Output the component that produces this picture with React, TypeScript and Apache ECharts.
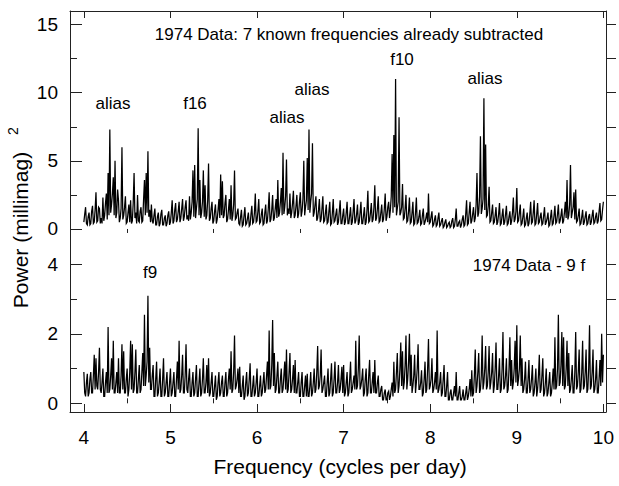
import React, { useEffect, useRef } from "react";
import * as echarts from "echarts";

// Frequency grid (cycles per day) of the periodogram samples
const FREQ_START = 4;
const FREQ_STEP = 0.01;

// Top panel: 1974 data, 7 known frequencies already subtracted (millimag^2)
const topPower = [
  0.5, 1.1, 1.6, 0.4, 0.3, 0.9, 1.2, 0.3, 0.4, 1.3, 1.7, 0.4, 0.5, 1.4, 2.7, 0.5, 0.6, 1.6, 1.5, 0.4,
  0.8, 0.4, 2.3, 0.6, 1.0, 1.9, 2.6, 0.7, 4.1, 1.0, 7.3, 1.2, 1.8, 2.6, 3.8, 1.0, 5.0, 0.8, 1.2, 2.9,
  2.1, 0.5, 0.8, 1.5, 6.0, 0.7, 1.0, 1.6, 2.4, 0.4, 0.5, 1.2, 1.8, 0.5, 2.1, 0.4, 0.6, 1.9, 4.1, 0.8,
  1.2, 0.4, 2.5, 0.6, 0.5, 1.3, 1.6, 0.5, 0.6, 2.2, 3.6, 1.0, 4.1, 1.2, 5.7, 0.9, 1.4, 0.5, 1.8, 0.6,
  0.4, 1.0, 1.5, 0.3, 0.3, 0.9, 1.2, 0.2, 0.4, 1.1, 1.4, 0.3, 0.3, 0.8, 1.0, 0.2, 0.4, 1.0, 1.3, 0.3,
  0.5, 1.2, 2.1, 0.4, 0.6, 1.4, 1.9, 0.5, 0.7, 1.3, 2.0, 0.5, 0.8, 1.5, 2.2, 0.6, 0.9, 1.6, 2.1, 0.7,
  1.0, 0.6, 2.4, 0.7, 1.2, 2.0, 4.3, 0.9, 4.7, 0.8, 1.5, 2.2, 7.4, 1.0, 3.6, 0.8, 1.2, 2.0, 4.3, 0.9,
  3.2, 0.7, 1.0, 2.1, 4.8, 0.6, 0.8, 1.5, 2.0, 0.4, 0.6, 1.3, 1.8, 0.4, 0.7, 1.4, 2.2, 0.8, 4.0, 1.0,
  3.5, 0.8, 1.0, 1.9, 2.5, 0.5, 0.7, 1.4, 2.2, 0.7, 3.2, 0.6, 1.0, 1.8, 4.3, 0.7, 0.8, 1.2, 1.5, 0.4,
  0.3, 0.9, 1.4, 0.2, 0.3, 1.0, 1.6, 0.3, 0.4, 0.8, 1.2, 0.2, 0.3, 1.1, 1.7, 0.4, 0.5, 1.2, 2.6, 0.5,
  0.6, 1.3, 2.2, 0.4, 0.5, 1.1, 1.5, 0.3, 0.4, 1.2, 1.8, 0.4, 0.6, 1.5, 2.7, 0.5, 0.7, 1.4, 2.5, 0.6,
  0.8, 1.5, 2.2, 0.8, 3.6, 0.9, 1.2, 2.0, 3.0, 1.0, 5.6, 1.1, 1.6, 2.4, 5.1, 1.0, 1.5, 1.1, 2.6, 0.8,
  1.2, 1.9, 2.8, 0.8, 1.0, 1.7, 2.5, 0.8, 1.1, 2.0, 2.7, 0.9, 1.3, 2.2, 5.0, 1.0, 1.6, 2.1, 5.2, 1.4,
  7.3, 1.2, 2.0, 2.6, 6.3, 0.9, 1.2, 1.8, 2.4, 0.6, 0.8, 1.4, 2.2, 0.5, 0.7, 1.5, 2.4, 0.5, 0.6, 1.2,
  1.8, 0.4, 0.5, 1.3, 2.0, 0.3, 0.4, 1.2, 2.2, 0.5, 0.6, 1.1, 1.5, 0.3, 0.5, 1.3, 2.1, 0.4, 0.4, 1.0,
  1.5, 0.3, 0.5, 1.2, 2.0, 0.4, 0.4, 1.0, 1.6, 0.3, 0.5, 1.3, 2.2, 0.4, 0.6, 1.1, 1.8, 0.3, 0.5, 1.2,
  2.0, 0.4, 0.4, 1.0, 1.6, 0.3, 0.5, 1.4, 2.8, 0.5, 0.6, 1.2, 1.9, 0.5, 0.7, 1.6, 3.2, 0.6, 0.8, 1.5,
  2.4, 0.5, 0.6, 1.2, 1.8, 0.5, 0.7, 1.5, 2.6, 0.6, 0.9, 1.6, 2.0, 0.8, 1.4, 2.4, 5.5, 1.2, 6.9, 1.6,
  11.0, 1.0, 1.5, 2.0, 8.2, 1.0, 1.2, 1.6, 3.3, 0.7, 0.8, 1.5, 2.5, 0.5, 0.6, 1.3, 2.3, 0.4, 0.5, 1.2,
  2.0, 0.3, 0.4, 1.2, 2.3, 0.4, 0.5, 0.9, 1.4, 0.3, 0.4, 1.0, 1.5, 0.3, 0.5, 0.8, 1.2, 0.5, 2.6, 0.4,
  0.5, 0.9, 1.3, 0.2, 0.3, 0.7, 1.0, 0.2, 0.3, 0.8, 1.2, 0.2, 0.3, 0.6, 0.8, 0.1, 0.2, 0.5, 0.7, 0.1,
  0.2, 0.4, 0.5, 0.1, 0.2, 0.6, 0.8, 0.1, 0.2, 0.7, 1.5, 0.2, 0.2, 0.5, 0.6, 0.1, 0.3, 0.7, 1.0, 0.2,
  0.3, 1.1, 2.1, 0.3, 0.4, 1.2, 2.0, 0.4, 0.6, 1.1, 1.6, 0.5, 0.8, 1.8, 4.1, 0.9, 1.2, 2.4, 6.8, 1.1,
  1.5, 2.2, 9.6, 1.4, 6.2, 0.9, 1.0, 1.7, 3.1, 0.5, 0.6, 1.2, 1.8, 0.4, 0.5, 1.0, 1.6, 0.3, 0.5, 1.1,
  1.9, 0.3, 0.4, 1.0, 1.5, 0.3, 0.5, 1.1, 1.7, 0.3, 0.4, 0.9, 1.3, 0.3, 0.6, 1.2, 2.3, 0.5, 0.7, 1.3,
  3.0, 0.5, 0.6, 1.2, 1.8, 0.3, 0.4, 0.9, 1.5, 0.2, 0.3, 0.8, 1.2, 0.2, 0.4, 1.1, 2.0, 0.4, 0.5, 1.2,
  2.1, 0.3, 0.4, 1.1, 1.9, 0.4, 0.5, 0.9, 1.2, 0.3, 0.4, 1.0, 1.6, 0.3, 0.5, 0.8, 1.2, 0.2, 0.3, 0.9,
  1.4, 0.3, 0.4, 1.0, 1.7, 0.4, 0.5, 1.1, 1.8, 0.4, 0.6, 1.0, 1.5, 0.4, 0.6, 1.2, 2.0, 0.8, 3.6, 0.7,
  1.0, 1.8, 4.7, 0.8, 1.2, 1.6, 2.7, 0.7, 2.9, 0.5, 0.6, 1.0, 1.5, 0.3, 0.4, 0.9, 1.4, 0.3, 0.5, 0.9,
  1.3, 0.3, 0.4, 0.9, 1.1, 0.3, 0.5, 1.0, 1.4, 0.4, 0.5, 0.9, 1.2, 0.4, 0.6, 1.3, 1.9, 0.6, 0.7, 1.4,
  2.0,
];

// Bottom panel: 1974 data minus 9 frequencies (millimag^2)
const bottomPower = [
  0.9, 0.3, 0.2, 0.6, 0.85, 0.2, 0.3, 0.7, 0.9, 0.3, 0.3, 0.8, 1.4, 0.4, 1.3, 0.5, 0.4, 0.9, 1.6, 0.4,
  0.3, 0.6, 1.0, 0.2, 0.2, 0.6, 0.9, 0.3, 2.2, 0.3, 0.4, 0.8, 1.3, 0.4, 1.8, 0.3, 0.3, 0.6, 0.9, 0.3,
  1.3, 0.3, 0.3, 0.8, 1.7, 0.4, 1.5, 0.3, 0.3, 0.7, 1.0, 0.2, 0.4, 0.9, 1.8, 0.4, 1.7, 0.3, 0.4, 0.9,
  1.55, 0.3, 0.3, 0.7, 1.1, 0.3, 0.4, 0.9, 1.45, 0.5, 2.55, 0.5, 0.8, 1.2, 3.1, 0.6, 1.6, 0.4, 0.4, 0.8,
  1.1, 0.2, 0.2, 0.7, 1.2, 0.2, 0.3, 0.6, 1.0, 0.2, 0.2, 0.7, 1.3, 0.2, 0.3, 0.6, 0.9, 0.2, 0.2, 0.6,
  1.0, 0.2, 0.3, 0.6, 0.9, 0.2, 0.2, 0.7, 1.2, 0.4, 1.8, 0.3, 0.4, 0.8, 1.4, 0.3, 0.3, 0.8, 1.7, 0.4,
  0.3, 0.7, 1.0, 0.2, 0.2, 0.6, 0.9, 0.2, 0.3, 0.7, 1.1, 0.2, 0.2, 0.6, 1.0, 0.2, 0.3, 0.7, 1.3, 0.3,
  0.3, 0.6, 1.1, 0.3, 1.3, 0.2, 0.3, 0.6, 0.9, 0.2, 0.2, 0.5, 0.8, 0.1, 0.2, 0.6, 0.9, 0.2, 0.3, 0.6,
  0.8, 0.2, 0.2, 0.6, 0.9, 0.2, 0.3, 0.7, 1.0, 0.4, 1.5, 0.3, 0.4, 0.9, 1.95, 0.4, 0.5, 0.7, 1.0, 0.3,
  1.05, 0.2, 0.2, 0.5, 0.8, 0.1, 0.2, 0.6, 0.9, 0.2, 0.3, 0.7, 1.15, 0.2, 0.2, 0.5, 0.8, 0.2, 0.3, 0.6,
  1.0, 0.2, 0.2, 0.5, 0.8, 0.2, 0.3, 0.6, 0.9, 0.3, 0.4, 0.8, 1.2, 0.4, 2.1, 0.4, 0.5, 1.1, 2.4, 0.5,
  1.45, 0.3, 0.4, 0.8, 1.2, 0.3, 0.3, 0.7, 1.0, 0.3, 0.4, 0.8, 1.2, 0.4, 1.55, 0.3, 0.4, 0.9, 1.45, 0.3,
  0.4, 0.7, 1.1, 0.3, 1.25, 0.3, 0.3, 0.6, 0.9, 0.2, 0.2, 0.6, 0.9, 0.2, 0.2, 0.5, 0.8, 0.2, 0.85, 0.2,
  0.2, 0.5, 0.9, 0.2, 0.3, 0.6, 1.0, 0.3, 0.4, 0.9, 1.65, 0.4, 0.5, 0.8, 1.55, 0.3, 0.4, 0.6, 0.8, 0.2,
  0.2, 0.6, 1.0, 0.2, 0.3, 0.7, 1.15, 0.2, 0.3, 0.7, 1.2, 0.3, 0.3, 0.6, 1.1, 0.3, 0.4, 0.7, 1.05, 0.3,
  1.1, 0.2, 0.3, 0.6, 0.9, 0.2, 0.3, 0.7, 1.2, 0.3, 0.4, 0.6, 0.8, 0.4, 1.8, 0.4, 0.5, 1.0, 1.95, 0.4,
  0.5, 0.7, 1.0, 0.2, 0.3, 0.7, 1.0, 0.2, 0.3, 0.8, 1.25, 0.3, 0.3, 0.6, 0.9, 0.3, 1.25, 0.3, 0.3, 0.6,
  0.8, 0.2, 0.2, 0.4, 0.5, 0.1, 0.1, 0.3, 0.4, 0.1, 0.1, 0.3, 0.35, 0.1, 0.2, 0.4, 0.6, 0.2, 1.2, 0.3,
  0.4, 0.9, 1.45, 0.3, 0.5, 1.0, 1.75, 0.5, 1.5, 0.4, 0.6, 1.1, 1.95, 0.4, 0.7, 1.2, 2.0, 0.5, 1.4, 0.3,
  0.5, 0.8, 1.4, 0.3, 0.6, 1.0, 1.7, 0.4, 0.4, 0.6, 0.95, 0.2, 0.3, 0.7, 1.2, 0.3, 0.4, 1.0, 1.85, 0.4,
  0.5, 0.7, 1.3, 0.3, 0.4, 0.6, 0.9, 0.4, 2.1, 0.3, 0.4, 0.6, 0.9, 0.2, 0.3, 0.7, 1.1, 0.2, 0.2, 0.5,
  0.9, 0.1, 0.1, 0.3, 0.4, 0.1, 0.1, 0.3, 0.5, 0.2, 0.9, 0.1, 0.1, 0.3, 0.5, 0.1, 0.1, 0.2, 0.4, 0.1,
  0.1, 0.3, 0.5, 0.1, 0.2, 0.4, 0.7, 0.2, 0.95, 0.2, 0.3, 0.8, 1.55, 0.3, 0.5, 0.9, 1.45, 0.3, 0.4, 0.8,
  1.95, 0.4, 0.6, 1.0, 1.65, 0.4, 0.5, 0.9, 1.65, 0.4, 0.6, 0.9, 1.45, 0.3, 0.5, 1.0, 1.75, 0.4, 0.4, 0.8,
  1.3, 0.3, 0.4, 1.0, 2.05, 0.4, 0.5, 0.8, 1.3, 0.3, 0.4, 1.0, 1.9, 0.5, 1.25, 0.4, 0.6, 1.0, 1.8, 0.6,
  2.25, 0.5, 0.7, 1.0, 1.95, 0.5, 1.3, 0.3, 0.4, 0.7, 1.2, 0.3, 0.3, 0.7, 1.25, 0.3, 0.4, 0.7, 1.1, 0.2,
  0.3, 0.6, 1.0, 0.2, 0.4, 0.8, 1.4, 0.3, 0.4, 0.8, 1.3, 0.2, 0.3, 0.6, 1.0, 0.2, 0.3, 0.6, 0.9, 0.2,
  0.3, 0.6, 1.0, 0.4, 1.9, 0.4, 0.5, 1.0, 2.55, 0.5, 0.6, 1.1, 2.05, 0.5, 1.9, 0.4, 0.5, 1.0, 1.8, 0.5,
  1.45, 0.3, 0.4, 0.7, 1.1, 0.3, 0.3, 0.9, 2.05, 0.4, 0.5, 0.9, 1.55, 0.3, 0.4, 0.9, 1.8, 0.4, 0.5, 0.9,
  1.55, 0.3, 0.4, 1.0, 2.25, 0.4, 0.5, 0.9, 1.55, 0.3, 0.4, 0.7, 1.25, 0.3, 0.3, 0.7, 1.25, 0.5, 2.0, 0.6,
  1.4,
];

// Axis tick values
const xMajorTicks = [4, 5, 6, 7, 8, 9, 10];
const xMinorTicks = [4.5, 5.5, 6.5, 7.5, 8.5, 9.5];
const topYMajor = [0, 5, 10, 15];
const topYMinor = [2.5, 7.5, 12.5];
const topYRight = [0, 2.5, 5, 7.5, 10, 12.5, 15];
const bottomYMajor = [0, 2, 4];
const bottomYMinor = [1, 3];
const bottomYRight = [0, 1, 2, 3, 4];

// Texts
const xTitle = "Frequency (cycles per day)";
const yTitle = "Power (millimag)";
const yTitleSup = "2";
const topTitle = "1974 Data: 7 known frequencies already subtracted";
const bottomTitle = "1974 Data - 9 f";
const topPeakLabels = ["alias", "f16", "alias", "alias", "f10", "alias"];
const bottomPeakLabels = ["f9"];

const FONT = "'Liberation Sans', Arial, Helvetica, sans-serif";
const INK = "#000";

function toPairs(values: number[]) {
  return values.map((v, i) => [+(FREQ_START + i * FREQ_STEP).toFixed(2), v]);
}

function axisBase(extra: any) {
  return {
    type: "value",
    splitLine: { show: false },
    axisLine: { show: false, lineStyle: { color: INK, width: 1 } },
    axisLabel: { show: false },
    axisTick: { show: false },
    ...extra,
  };
}

export default function App() {
  const ref = useRef<HTMLDivElement>(null);

  useEffect(() => {
    if (!ref.current) return;
    const chart = echarts.init(ref.current, undefined, { renderer: "svg" });

    const X_MIN = 3.84;
    const X_MAX = 10.03;
    const T_MIN = -1.25;
    const T_MAX = 16;
    const B_MIN = -0.25;
    const B_MAX = 4.53;

    const tick = (values: number[], length: number, inside: boolean) => ({
      show: true,
      inside,
      length,
      customValues: values,
      lineStyle: { color: "#222", width: 1 },
    });
    const frameLine = { show: true, onZero: false, lineStyle: { color: "#222", width: 1 } };

    const xAxes = [
      axisBase({
        gridIndex: 0, position: "top", min: X_MIN, max: X_MAX,
        axisLine: frameLine,
        axisTick: tick(xMajorTicks, 7, true),
        axisLabel: { show: false, customValues: xMajorTicks },
      }),
      axisBase({
        gridIndex: 0, position: "top", min: X_MIN, max: X_MAX,
        axisTick: tick(xMinorTicks, 4, true),
        axisLabel: { show: false, customValues: xMinorTicks },
      }),
      axisBase({
        gridIndex: 1, position: "bottom", min: X_MIN, max: X_MAX,
        axisLine: frameLine,
        axisTick: tick(xMajorTicks, 8, true),
        axisLabel: {
          show: true, customValues: xMajorTicks, margin: 16,
          fontSize: 19, color: "#000", fontFamily: FONT,
        },
      }),
      axisBase({
        gridIndex: 1, position: "bottom", min: X_MIN, max: X_MAX,
        axisTick: tick(xMinorTicks, 5, true),
        axisLabel: { show: false, customValues: xMinorTicks },
      }),
    ];

    const yAxes = [
      axisBase({
        gridIndex: 0, position: "left", min: T_MIN, max: T_MAX,
        axisLine: frameLine,
        axisTick: tick(topYMajor, 12, true),
        axisLabel: {
          show: true, customValues: topYMajor, margin: 12,
          fontSize: 19, color: "#000", fontFamily: FONT,
        },
      }),
      axisBase({
        gridIndex: 0, position: "left", min: T_MIN, max: T_MAX,
        axisTick: tick(topYMinor, 7, true),
        axisLabel: { show: false, customValues: topYMinor },
      }),
      axisBase({
        gridIndex: 0, position: "right", min: T_MIN, max: T_MAX,
        axisLine: frameLine,
        axisTick: tick(topYRight, 10, false),
        axisLabel: { show: false, customValues: topYRight },
      }),
      axisBase({
        gridIndex: 1, position: "left", min: B_MIN, max: B_MAX,
        axisLine: frameLine,
        axisTick: tick(bottomYMajor, 12, true),
        axisLabel: {
          show: true, customValues: bottomYMajor, margin: 12,
          fontSize: 19, color: "#000", fontFamily: FONT,
        },
      }),
      axisBase({
        gridIndex: 1, position: "left", min: B_MIN, max: B_MAX,
        axisTick: tick(bottomYMinor, 7, true),
        axisLabel: { show: false, customValues: bottomYMinor },
      }),
      axisBase({
        gridIndex: 1, position: "right", min: B_MIN, max: B_MAX,
        axisLine: frameLine,
        axisTick: tick(bottomYRight, 10, false),
        axisLabel: { show: false, customValues: bottomYRight },
      }),
    ];

    const txt = (text: string, x: number, y: number, fontSize: number, extra: any = {}) => ({
      type: "text",
      x,
      y,
      style: {
        text,
        fontSize,
        fontFamily: FONT,
        fill: "#000",
        align: "center",
        verticalAlign: "middle",
      },
      ...extra,
    });

    const topLabelPos = [
      [113, 103], [195, 103], [287, 117], [312, 89], [402, 59], [485, 78],
    ];
    const bottomLabelPos = [[150, 272]];

    const lineStyle = { color: INK, width: 1.25, join: "miter" };

    const option: any = {
      animation: false,
      backgroundColor: "#fff",
      grid: [
        { left: 70, right: 13, top: 11, height: 235 },
        { left: 70, right: 13, top: 246, height: 166 },
      ],
      xAxis: xAxes,
      yAxis: yAxes,
      series: [
        {
          type: "line",
          xAxisIndex: 0,
          yAxisIndex: 0,
          data: toPairs(topPower),
          showSymbol: false,
          symbol: "none",
          lineStyle,
          silent: true,
        },
        {
          type: "line",
          xAxisIndex: 2,
          yAxisIndex: 3,
          data: toPairs(bottomPower),
          showSymbol: false,
          symbol: "none",
          lineStyle,
          silent: true,
        },
      ],
      graphic: [
        txt(topTitle, 349, 34, 17),
        ...topPeakLabels.map((t, i) => txt(t, topLabelPos[i][0], topLabelPos[i][1], 17)),
        ...bottomPeakLabels.map((t, i) => txt(t, bottomLabelPos[i][0], bottomLabelPos[i][1], 17)),
        txt(bottomTitle, 529, 265, 17),
        txt(xTitle, 340, 466, 21),
        txt(yTitle, 20, 230, 21, { rotation: Math.PI / 2 }),
        txt(yTitleSup, 13, 131, 14, { rotation: Math.PI / 2 }),
      ],
    };

    chart.setOption(option);
    return () => chart.dispose();
  }, []);

  return (
    <div
      ref={ref}
      style={{ position: "fixed", left: 0, top: 0, width: 619, height: 486, background: "#fff" }}
    />
  );
}
